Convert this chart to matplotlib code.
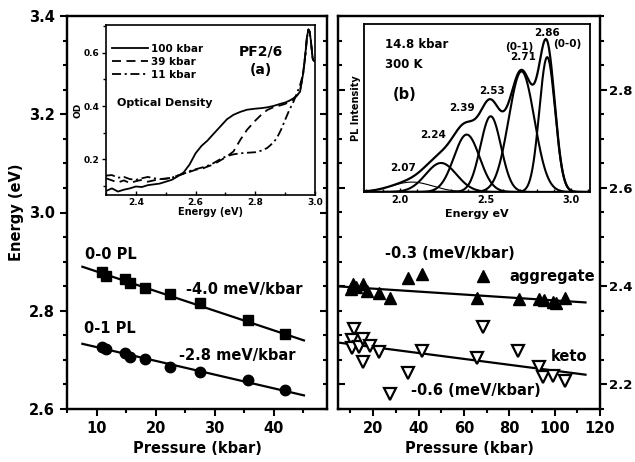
import numpy as np
import matplotlib
matplotlib.use('Agg')
import matplotlib.pyplot as plt
from matplotlib.ticker import MultipleLocator

plt.rcParams['font.family'] = 'DejaVu Sans'
plt.rcParams['font.weight'] = 'bold'
plt.rcParams['axes.labelweight'] = 'bold'

# left panel: PL 0-0 and 0-1 peak energies vs pressure
p_pl = [10.9, 11.6, 14.8, 15.6, 18.2, 22.4, 27.5, 35.6, 41.9]
e_00 = [2.878, 2.871, 2.864, 2.856, 2.847, 2.834, 2.815, 2.781, 2.752]
e_01 = [2.727, 2.722, 2.713, 2.705, 2.701, 2.686, 2.676, 2.660, 2.639]
slope_00, slope_01 = -4.0, -2.8          # meV/kbar
icpt_00, icpt_01 = 2.920, 2.754          # eV at 0 kbar
fit_range_a = [7.6, 45.1]

# right panel: aggregate and keto emission vs pressure
p_agg = [11.2, 10.3, 12.6, 15.6, 17.4, 22.5, 27.3, 35.4, 41.6, 65.9, 68.3,
         84.2, 93.1, 95.3, 99.2, 100.4, 104.5]
e_agg = [2.404, 2.395, 2.398, 2.404, 2.391, 2.386, 2.376, 2.417, 2.424, 2.376,
         2.420, 2.373, 2.374, 2.371, 2.368, 2.366, 2.376]
p_keto = [11.4, 10.7, 10.7, 13.6, 15.4, 15.4, 18.8, 22.5, 27.6, 35.4, 41.6,
          65.9, 68.3, 84.0, 93.1, 95.0, 99.2, 104.4]
e_keto = [2.313, 2.290, 2.275, 2.277, 2.293, 2.245, 2.279, 2.266, 2.181, 2.224,
          2.269, 2.254, 2.317, 2.269, 2.235, 2.216, 2.218, 2.208]
slope_agg, slope_keto = -0.3, -0.6
icpt_agg, icpt_keto = 2.401, 2.288
fit_range_b = [4.6, 113.6]

# inset (a): optical density spectra
od_e = [2.300, 2.320, 2.340, 2.360, 2.380, 2.400, 2.420, 2.440, 2.460, 2.480,
        2.500, 2.520, 2.540, 2.560, 2.580, 2.600, 2.620, 2.640, 2.660, 2.683,
        2.705, 2.727, 2.750, 2.772, 2.800, 2.820, 2.840, 2.860, 2.872, 2.886,
        2.900, 2.914, 2.928, 2.940, 2.950, 2.960, 2.968, 2.973, 2.978, 2.982,
        2.986, 2.992, 2.996]
od_100 = [0.080, 0.090, 0.078, 0.085, 0.090, 0.097, 0.095, 0.102, 0.105, 0.108,
          0.115, 0.122, 0.135, 0.150, 0.180, 0.222, 0.250, 0.270, 0.295, 0.323,
          0.350, 0.367, 0.378, 0.386, 0.390, 0.392, 0.395, 0.400, 0.404, 0.409,
          0.413, 0.420, 0.429, 0.440, 0.454, 0.520, 0.600, 0.660, 0.688, 0.680,
          0.648, 0.580, 0.570]
od_39 = [0.128, 0.120, 0.112, 0.120, 0.110, 0.117, 0.122, 0.115, 0.120, 0.125,
         0.127, 0.130, 0.138, 0.145, 0.152, 0.160, 0.163, 0.172, 0.180, 0.195,
         0.210, 0.229, 0.273, 0.310, 0.345, 0.367, 0.385, 0.395, 0.399, 0.403,
         0.408, 0.415, 0.426, 0.440, 0.458, 0.520, 0.600, 0.660, 0.688, 0.680,
         0.648, 0.580, 0.570]
od_11 = [0.138, 0.140, 0.130, 0.133, 0.125, 0.122, 0.128, 0.133, 0.128, 0.125,
         0.126, 0.130, 0.138, 0.145, 0.155, 0.162, 0.168, 0.175, 0.185, 0.200,
         0.212, 0.218, 0.222, 0.224, 0.226, 0.232, 0.242, 0.262, 0.279, 0.310,
         0.348, 0.385, 0.416, 0.450, 0.479, 0.520, 0.590, 0.655, 0.688, 0.680,
         0.648, 0.580, 0.570]
od_labels = ['100 kbar', '39 kbar', '11 kbar']

# inset (b): Gaussian components of the 14.8 kbar PL spectrum
pl_centers = [2.07, 2.24, 2.39, 2.53, 2.71, 2.86]
pl_heights = [0.065, 0.19, 0.376, 0.496, 0.79, 0.883]
pl_widths = [0.12, 0.09, 0.075, 0.06, 0.075, 0.046]
pl_label_pos = [(2.02, 0.157), (2.196, 0.375), (2.363, 0.549),
                (2.539, 0.664), (2.72, 0.882), (2.861, 1.043)]

W, H = 635.0, 462.0


def box(x0, x1, y0, y1):
    return [x0 / W, 1 - y1 / H, (x1 - x0) / W, (y1 - y0) / H]


def frame(ax, lw=1.6):
    for s in ax.spines.values():
        s.set_linewidth(lw)


fig = plt.figure(figsize=(6.35, 4.62), dpi=100)

# ---- left panel
ax1 = fig.add_axes(box(67, 327, 16, 409))
ax1.set_xlim(5, 49)
ax1.set_ylim(2.6, 3.4)
ax1.xaxis.set_major_locator(MultipleLocator(10))
ax1.xaxis.set_minor_locator(MultipleLocator(5))
ax1.yaxis.set_major_locator(MultipleLocator(0.2))
ax1.yaxis.set_minor_locator(MultipleLocator(0.05))
ax1.tick_params(which='both', direction='out', labelsize=10.5, width=1.5)
ax1.tick_params(which='major', length=5)
ax1.tick_params(which='minor', length=3)
frame(ax1)
t1 = ax1.twinx()
t1.set_ylim(ax1.get_ylim())
t1.yaxis.set_major_locator(MultipleLocator(0.2))
t1.yaxis.set_minor_locator(MultipleLocator(0.05))
t1.tick_params(which='both', direction='in', labelright=False, width=1.5)
t1.tick_params(which='major', length=5)
t1.tick_params(which='minor', length=3)
frame(t1)

xf = np.array(fit_range_a)
ax1.plot(xf, icpt_00 + slope_00 / 1000 * xf, color='k', lw=1.6)
ax1.plot(xf, icpt_01 + slope_01 / 1000 * xf, color='k', lw=1.6)
ax1.plot(p_pl, e_00, 's', ms=6.5, color='k')
ax1.plot(p_pl, e_01, 'o', ms=7.5, color='k')
ax1.text(8.1, 2.915, '0-0 PL', fontsize=10.5, va='center')
ax1.text(25.1, 2.843, f'{slope_00:.1f} meV/kbar', fontsize=10.5, va='center')
ax1.text(7.8, 2.763, '0-1 PL', fontsize=10.5, va='center')
ax1.text(24.0, 2.708, f'{slope_01:.1f} meV/kbar', fontsize=10.5, va='center')
ax1.set_xlabel('Pressure (kbar)', fontsize=10.5)
ax1.set_ylabel('Energy (eV)', fontsize=10.5)

# ---- right panel
ax2 = fig.add_axes(box(338, 600, 16, 409))
ax2.set_xlim(4.5, 120)
ax2.set_ylim(2.15, 2.95)
ax2.xaxis.set_major_locator(MultipleLocator(20))
ax2.xaxis.set_minor_locator(MultipleLocator(10))
ax2.yaxis.set_major_locator(MultipleLocator(0.2))
ax2.yaxis.set_minor_locator(MultipleLocator(0.05))
ax2.tick_params(axis='x', which='both', direction='out', labelsize=10.5, width=1.5)
ax2.tick_params(axis='y', which='both', direction='in', labelleft=False, width=1.5)
ax2.tick_params(which='major', length=5)
ax2.tick_params(which='minor', length=3)
frame(ax2)
t2 = ax2.twinx()
t2.set_ylim(ax2.get_ylim())
t2.yaxis.set_major_locator(MultipleLocator(0.2))
t2.yaxis.set_minor_locator(MultipleLocator(0.05))
t2.tick_params(which='both', direction='out', labelsize=9.5, pad=1.5, width=1.5)
t2.tick_params(which='major', length=5)
t2.tick_params(which='minor', length=3)
frame(t2)

xf = np.array(fit_range_b)
ax2.plot(xf, icpt_agg + slope_agg / 1000 * xf, color='k', lw=1.6)
ax2.plot(xf, icpt_keto + slope_keto / 1000 * xf, color='k', lw=1.6)
ax2.plot(p_agg, e_agg, '^', ms=8.5, color='k')
ax2.plot(p_keto, e_keto, 'v', ms=8, mfc='white', mec='k', mew=1.6)
ax2.text(53.9, 2.466, f'{slope_agg:.1f} (meV/kbar)', fontsize=10.5,
         ha='center', va='center')
ax2.text(118, 2.419, 'aggregate', fontsize=10.5, ha='right', va='center')
ax2.text(114.3, 2.257, 'keto', fontsize=10.5, ha='right', va='center')
ax2.text(36.5, 2.188, f'{slope_keto:.1f} (meV/kbar)', fontsize=10.5,
         ha='left', va='center')
ax2.set_xlabel('Pressure (kbar)', fontsize=10.5)

# ---- inset (a)
axa = fig.add_axes(box(106, 315, 25, 195), zorder=5)
axa.plot(od_e, od_100, color='k', lw=1.3, label=od_labels[0])
axa.plot(od_e, od_39, color='k', lw=1.3, ls=(0, (5, 3)), label=od_labels[1])
axa.plot(od_e, od_11, color='k', lw=1.3, ls=(0, (5, 2, 1.2, 2)), label=od_labels[2])
axa.set_xlim(2.3, 3.0)
axa.set_ylim(0.065, 0.705)
axa.xaxis.set_major_locator(MultipleLocator(0.2))
axa.xaxis.set_minor_locator(MultipleLocator(0.1))
axa.yaxis.set_major_locator(MultipleLocator(0.2))
axa.yaxis.set_minor_locator(MultipleLocator(0.1))
axa.tick_params(axis='x', which='both', direction='in', labelsize=6.5, pad=2, width=1)
axa.tick_params(axis='y', which='both', direction='out', labelsize=6.5, pad=1.5, width=1)
axa.tick_params(which='major', length=3)
axa.tick_params(which='minor', length=2)
frame(axa, 1.2)
axa.set_xlabel('Energy (eV)', fontsize=7, labelpad=0)
axa.set_ylabel('OD', fontsize=6.5, labelpad=1)
axa.legend(loc='upper left', bbox_to_anchor=(0.03, 0.89), frameon=False,
           prop={'weight': 'bold', 'size': 7.5}, handlelength=3.4,
           handletextpad=0.3, labelspacing=0.3, borderpad=0, borderaxespad=0)
axa.text(0.053, 0.541, 'Optical Density', transform=axa.transAxes,
         fontsize=8, va='center')
axa.text(0.742, 0.847, 'PF2/6', transform=axa.transAxes, fontsize=10,
         ha='center', va='center')
axa.text(0.742, 0.735, '(a)', transform=axa.transAxes, fontsize=10,
         ha='center', va='center')

# ---- inset (b)
axb = fig.add_axes(box(364, 590, 24, 192), zorder=5)
ex = np.linspace(1.79, 3.11, 600)
total = np.zeros_like(ex)
for c, h, w in zip(pl_centers, pl_heights, pl_widths):
    g = h * np.exp(-(ex - c) ** 2 / (2 * w ** 2))
    total += g
    axb.plot(ex, g, color='k', lw=0.8 if c == pl_centers[0] else 1.5)
axb.plot(ex, total, color='k', lw=1.6)
for c, (lx, ly) in zip(pl_centers, pl_label_pos):
    axb.text(lx, ly, f'{c:.2f}', fontsize=7.5, ha='center', va='center')
axb.text(2.696, 0.952, '(0-1)', fontsize=7.5, ha='center', va='center')
axb.text(2.98, 0.967, '(0-0)', fontsize=7.5, ha='center', va='center')
axb.text(1.912, 0.963, '14.8 kbar', fontsize=8.5, va='center')
axb.text(1.912, 0.837, '300 K', fontsize=8.5, va='center')
axb.text(1.957, 0.64, '(b)', fontsize=10.5, va='center')
axb.set_xlim(1.79, 3.11)
axb.set_ylim(0, 1.10)
axb.xaxis.set_major_locator(MultipleLocator(0.5))
axb.xaxis.set_minor_locator(MultipleLocator(0.1))
axb.tick_params(axis='x', which='both', direction='in', labelsize=7, pad=2, width=1)
axb.tick_params(which='major', length=3)
axb.tick_params(which='minor', length=2)
axb.set_yticks([])
frame(axb, 1.3)
axb.set_xlabel('Energy eV', fontsize=8, labelpad=3)
axb.set_ylabel('PL Intensity', fontsize=7, labelpad=2)

fig.savefig('out.png', dpi=100)
